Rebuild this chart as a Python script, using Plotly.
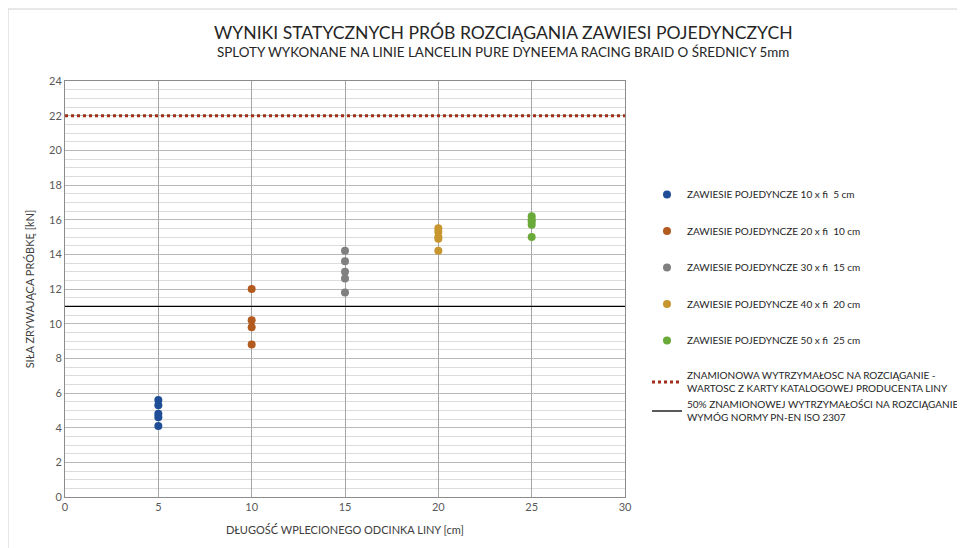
import plotly.graph_objects as go

# ---- data ----
series_names = [
    "ZAWIESIE POJEDYNCZE 10 x fi  5 cm",
    "ZAWIESIE POJEDYNCZE 20 x fi  10 cm",
    "ZAWIESIE POJEDYNCZE 30 x fi  15 cm",
    "ZAWIESIE POJEDYNCZE 40 x fi  20 cm",
    "ZAWIESIE POJEDYNCZE 50 x fi  25 cm",
]
x_5 = [5, 5, 5, 5, 5]
y_5 = [5.6, 5.3, 4.8, 4.6, 4.1]
x_10 = [10, 10, 10, 10]
y_10 = [12.0, 10.2, 9.8, 8.8]
x_15 = [15, 15, 15, 15, 15]
y_15 = [14.2, 13.6, 13.0, 12.6, 11.8]
x_20 = [20, 20, 20, 20, 20]
y_20 = [15.5, 15.3, 15.0, 14.9, 14.2]
x_25 = [25, 25, 25, 25, 25]
y_25 = [16.2, 16.0, 15.9, 15.7, 15.0]

nominal_strength = 22
half_strength = 11
line_x = [0, 30]
nominal_name = "ZNAMIONOWA WYTRZYMAŁOSC NA ROZCIĄGANIE -<br>WARTOSC Z KARTY KATALOGOWEJ PRODUCENTA LINY"
half_name = "50% ZNAMIONOWEJ WYTRZYMAŁOŚCI NA ROZCIĄGANIE -<br>WYMÓG NORMY PN-EN ISO 2307"

title_text = "WYNIKI STATYCZNYCH PRÓB ROZCIĄGANIA ZAWIESI POJEDYNCZYCH"
subtitle_text = "SPLOTY WYKONANE NA LINIE LANCELIN PURE DYNEEMA RACING BRAID O ŚREDNICY 5mm"
x_title = "DŁUGOŚĆ WPLECIONEGO ODCINKA LINY [cm]"
y_title = "SIŁA ZRYWAJĄCA PRÓBKĘ [kN]"

colors = ["#1F4E96", "#B35A1F", "#808080", "#C8962E", "#6AAA3A"]
xs = [x_5, x_10, x_15, x_20, x_25]
ys = [y_5, y_10, y_15, y_20, y_25]

FONT = "Lato"
# page body has an 8px margin, so the figure is 8px smaller than the window
W, H = 957, 540
ML, MR, MT, MB = 57, 340, 73, 51
pw, ph = W - ML - MR, H - MT - MB


def px_to_paper(px, py):
    return (px - ML) / pw, (H - MB - py) / ph


fig = go.Figure()

for i, (name, xv, yv, c) in enumerate(zip(series_names, xs, ys, colors)):
    fig.add_trace(go.Scatter(
        x=xv, y=yv, mode="markers", name=name, legendgroup=f"g{i}",
        marker=dict(color=c, size=8),
    ))

fig.add_trace(go.Scatter(
    x=line_x, y=[nominal_strength] * 2, mode="lines", name=nominal_name, legendgroup="lines",
    line=dict(color="#A0301A", width=3, dash="dot"),
))
fig.add_trace(go.Scatter(
    x=line_x, y=[half_strength] * 2, mode="lines", name=half_name, legendgroup="lines",
    line=dict(color="#000000", width=1.3),
))

tx, ty = px_to_paper(495, 25)
sx, sy = px_to_paper(495, 44)

fig.update_layout(
    width=W, height=H,
    paper_bgcolor="white", plot_bgcolor="white",
    margin=dict(l=ML, r=MR, t=MT, b=MB, autoexpand=False),
    font=dict(family=FONT, color="#404040"),
    showlegend=True,
    legend=dict(
        xref="container", yref="container",
        x=639 / W, xanchor="left", y=1 - 172 / H, yanchor="top",
        font=dict(size=10, color="#262626", family=FONT),
        tracegroupgap=17.5, itemwidth=30,
        bgcolor="rgba(0,0,0,0)",
    ),
    annotations=[
        dict(text=title_text, x=tx, y=ty, xref="paper", yref="paper",
             xanchor="center", yanchor="middle", showarrow=False,
             font=dict(size=17.6, color="#262626", family=FONT)),
        dict(text=subtitle_text, x=sx, y=sy, xref="paper", yref="paper",
             xanchor="center", yanchor="middle", showarrow=False,
             font=dict(size=13.4, color="#262626", family=FONT)),
    ],
)

fig.update_xaxes(
    range=[0, 30], dtick=5, tick0=0, automargin=False,
    showgrid=True, gridcolor="#A6A6A6", gridwidth=1,
    showline=True, linecolor="#8C8C8C", linewidth=1, mirror=True,
    zeroline=False, ticks="",
    tickfont=dict(size=11, color="#595959", family=FONT),
    title=dict(text=x_title, font=dict(size=11, color="#404040", family=FONT), standoff=14),
)
fig.update_yaxes(
    range=[0, 24], dtick=2, tick0=0, automargin=False,
    showgrid=True, gridcolor="#B8B8B8", gridwidth=1,
    minor=dict(dtick=0.5, showgrid=True, gridcolor="#DCDCDC", gridwidth=1),
    showline=True, linecolor="#8C8C8C", linewidth=1, mirror=True,
    zeroline=False, ticks="",
    tickfont=dict(size=11, color="#595959", family=FONT),
    title=dict(text=y_title, font=dict(size=11, color="#404040", family=FONT), standoff=12),
)

# outer chart border (top and left edges visible in the reference)
bx0, by1 = px_to_paper(0, 1)
bx1, by0 = px_to_paper(W + 20, H + 20)
fig.add_shape(type="rect", xref="paper", yref="paper",
              x0=bx0, x1=bx1, y0=by0, y1=by1,
              line=dict(color="#D0D0D0", width=1), layer="below")

fig.write_html("out.html")
